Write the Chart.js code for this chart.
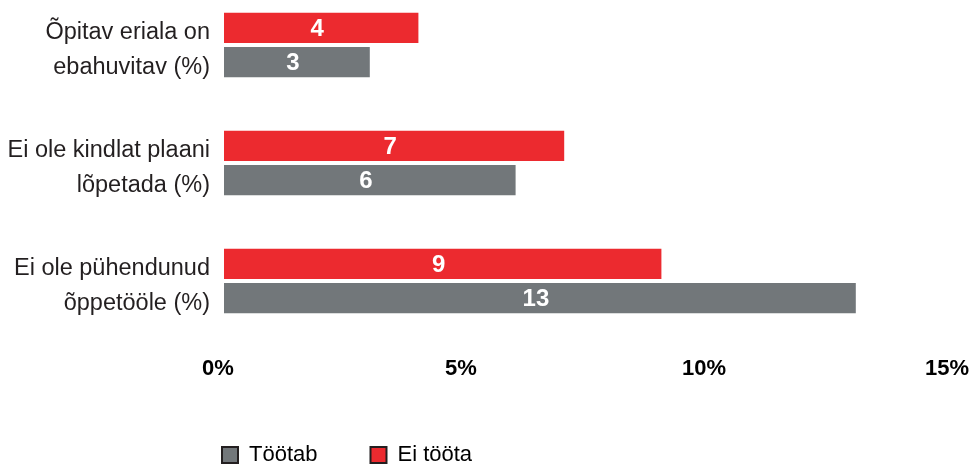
<!DOCTYPE html>
<html>
<head>
<meta charset="utf-8">
<script src="https://cdn.jsdelivr.net/npm/chart.js@4"></script>
<style>
  html, body { margin: 0; padding: 0; background: #fff; }
  #wrap { width: 969px; height: 464px; position: relative; }
</style>
</head>
<body>
<div id="wrap"><canvas id="chart"></canvas></div>
<script>
// data
const categories = [
  ['Õpitav eriala on', 'ebahuvitav (%)'],
  ['Ei ole kindlat plaani', 'lõpetada (%)'],
  ['Ei ole pühendunud', 'õppetööle (%)']
];
const eiTootaValues = [4, 7, 9];
const tootabValues = [3, 6, 13];
const xTicks = [0, 5, 10, 15];

const RED = '#ec2a2f';
const GRAY = '#72777a';
const FONT = '"Liberation Sans", Arial, sans-serif';
const LEGEND_PAD = 53;

// white value labels in the middle of each bar
const barLabels = {
  id: 'barLabels',
  afterDatasetsDraw(chart) {
    const ctx = chart.ctx;
    ctx.save();
    ctx.fillStyle = '#fff';
    ctx.font = 'bold 24px ' + FONT;
    ctx.textAlign = 'center';
    ctx.textBaseline = 'middle';
    chart.data.datasets.forEach((ds, i) => {
      chart.getDatasetMeta(i).data.forEach((bar, j) => {
        const cx = (bar.x + bar.base) / 2 - 4;
        ctx.fillText(ds.data[j], cx, bar.y + 1);
      });
    });
    ctx.restore();
  }
};

// legend starts under the left edge of the plot
const legendShift = {
  id: 'legendShift',
  afterLayout(chart) {
    const lg = chart.legend;
    if (!lg) return;
    const w = lg.width;
    lg.left = chart.chartArea.left - LEGEND_PAD - 2;
    lg.right = lg.left + w;
  }
};

new Chart(document.getElementById('chart'), {
  type: 'bar',
  data: {
    labels: categories,
    datasets: [
      { label: 'Ei tööta', data: eiTootaValues, backgroundColor: RED, clip: false },
      { label: 'Töötab', data: tootabValues, backgroundColor: GRAY, clip: false }
    ]
  },
  options: {
    indexAxis: 'y',
    responsive: true,
    maintainAspectRatio: false,
    animation: false,
    categoryPercentage: 0.58,
    barPercentage: 0.88,
    layout: { padding: { top: 45, right: 0, left: 0, bottom: -12 } },
    scales: {
      x: {
        min: 0, max: 15,
        afterBuildTicks: (scale) => { scale.ticks = xTicks.map(v => ({ value: v })); },
        afterFit: (scale) => { scale.height = 110; scale.paddingRight = 16; },
        grid: { display: false, drawTicks: true, tickLength: 75 },
        border: { display: false },
        ticks: {
          padding: 0,
          labelOffset: -6,
          color: '#000',
          font: { family: FONT, size: 22, weight: 'bold' },
          callback: (v) => v + '%'
        }
      },
      y: {
        offset: false,
        afterFit: (scale) => { scale.width = 224; },
        grid: { display: false },
        border: { display: false },
        ticks: {
          padding: 6,
          labelOffset: 5,
          color: '#231f20',
          font: { family: FONT, size: 23.5, lineHeight: 1.53 }
        }
      }
    },
    plugins: {
      legend: {
        position: 'bottom',
        align: 'start',
        fullSize: false,
        reverse: true,
        labels: {
          color: '#231f20',
          font: { family: FONT, size: 22 },
          boxWidth: 16,
          boxHeight: 16,
          padding: LEGEND_PAD,
          generateLabels: (chart) => chart.data.datasets.map((ds, i) => ({
            text: ds.label,
            fillStyle: ds.backgroundColor,
            strokeStyle: '#231f20',
            lineWidth: 2,
            datasetIndex: i,
            hidden: false
          }))
        }
      },
      tooltip: { enabled: false }
    }
  },
  plugins: [barLabels, legendShift]
});
</script>
</body>
</html>
